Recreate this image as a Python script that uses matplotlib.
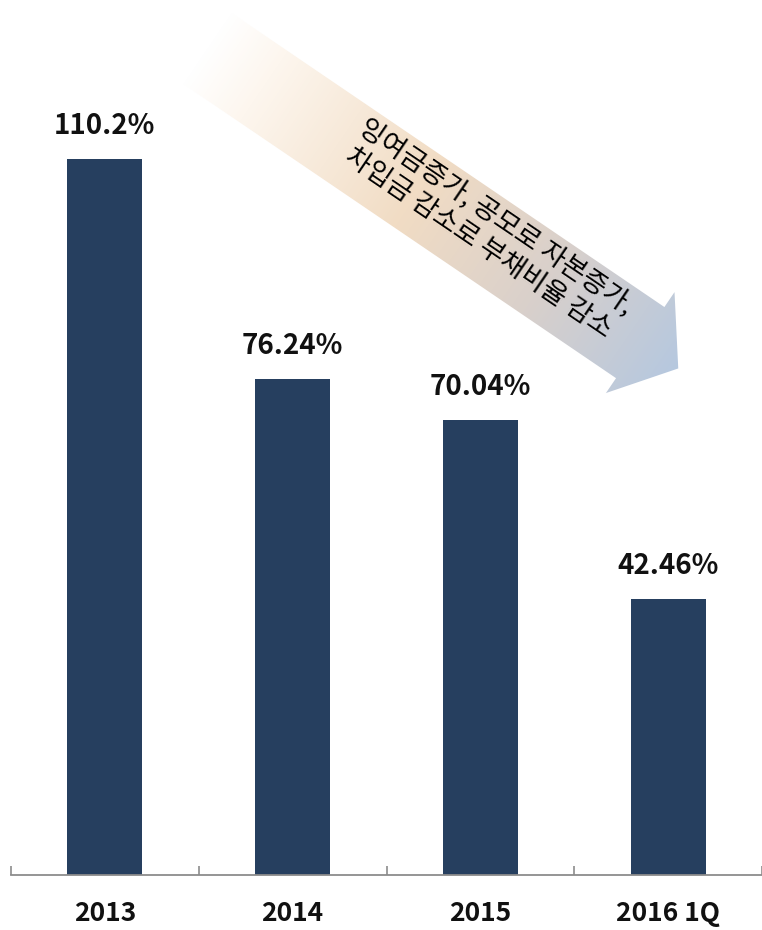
import numpy as np
import matplotlib
matplotlib.use("Agg")
import matplotlib.pyplot as plt
from matplotlib.patches import Polygon
from matplotlib.colors import LinearSegmentedColormap

plt.rcParams['font.family'] = ['Noto Sans CJK KR', 'DejaVu Sans']

# ------------------------------------------------------------
# Data
# ------------------------------------------------------------
categories = ["2013", "2014", "2015", "2016 1Q"]
values = [110.2, 76.24, 70.04, 42.46]
value_labels = ["110.2%", "76.24%", "70.04%", "42.46%"]
note_lines = ["잉여금증가, 공모로 자본증가,", "차입금 감소로 부채비율 감소"]

BAR_COLOR = "#263F5F"
AXIS_COLOR = "#8C8C8C"

W, H = 762, 930
fig = plt.figure(figsize=(W / 100, H / 100), dpi=100)

# main bar axes (pixel layout)
ax = fig.add_axes([11 / W, 1 - 875 / H, 1 - 11 / W, 875 / H])
x = np.arange(len(categories))
bars = ax.bar(x, values, width=0.4, color=BAR_COLOR, zorder=2)

ax.set_xlim(-0.5, 3.47)
ax.set_ylim(0, 134.6)

for b, lab in zip(bars, value_labels):
    ax.annotate(lab, (b.get_x() + b.get_width() / 2, b.get_height()),
                xytext=(0, 18), textcoords="offset points",
                ha="center", va="baseline", fontsize=20, fontweight="bold",
                color="#111111")

for s in ["top", "right", "left"]:
    ax.spines[s].set_visible(False)
ax.spines["bottom"].set_color(AXIS_COLOR)
ax.spines["bottom"].set_linewidth(1.3)

ax.set_yticks([])
ax.set_xticks(x)
ax.set_xticklabels(categories, fontsize=19, fontweight="bold", color="#111111")
ax.tick_params(axis="x", which="major", length=0, pad=18)
ax.set_xticks(np.arange(-0.5, 4.0, 1.0), minor=True)
ax.tick_params(axis="x", which="minor", direction="in", length=6.5,
               width=1.2, color=AXIS_COLOR)

# ------------------------------------------------------------
# Gradient arrow overlay (pixel coordinates)
# ------------------------------------------------------------
ov = fig.add_axes([0, 0, 1, 1], zorder=5)
ov.set_xlim(0, W)
ov.set_ylim(H, 0)
ov.axis("off")
ov.patch.set_alpha(0)

start = np.array([206.0, 47.5])
ang = np.deg2rad(34.2)
d = np.array([np.cos(ang), np.sin(ang)])
n = np.array([-np.sin(ang), np.cos(ang)])
body_len, body_w = 525.0, 86.0
head_len, head_w = 46.0, 122.0

p_end = start + d * body_len
tip = p_end + d * head_len
verts = [
    start - n * body_w / 2,
    p_end - n * body_w / 2,
    p_end - n * head_w / 2,
    tip,
    p_end + n * head_w / 2,
    p_end + n * body_w / 2,
    start + n * body_w / 2,
]
arrow = Polygon(verts, closed=True, facecolor="none", edgecolor="none")
ov.add_patch(arrow)

cmap = LinearSegmentedColormap.from_list(
    "arrow_grad",
    [(0.0, "#FFFFFF"), (0.12, "#FDF6EE"), (0.45, "#F1DCC4"),
     (0.72, "#D9D0CB"), (1.0, "#B6C8DF")])
yy, xx = np.mgrid[0:H, 0:W]
t = ((xx - start[0]) * d[0] + (yy - start[1]) * d[1]) / (body_len + head_len)
t = np.clip(t, 0, 1)
img = ov.imshow(t, cmap=cmap, extent=(0, W, H, 0), origin="upper",
                vmin=0, vmax=1, interpolation="bilinear")
img.set_clip_path(arrow)

ov.text(487, 230, "\n".join(note_lines), rotation=-34.2,
        rotation_mode="anchor", ha="center", va="center",
        multialignment="center", fontsize=19.5, linespacing=1.2,
        color="#000000")

fig.savefig("out.png", dpi=100)
